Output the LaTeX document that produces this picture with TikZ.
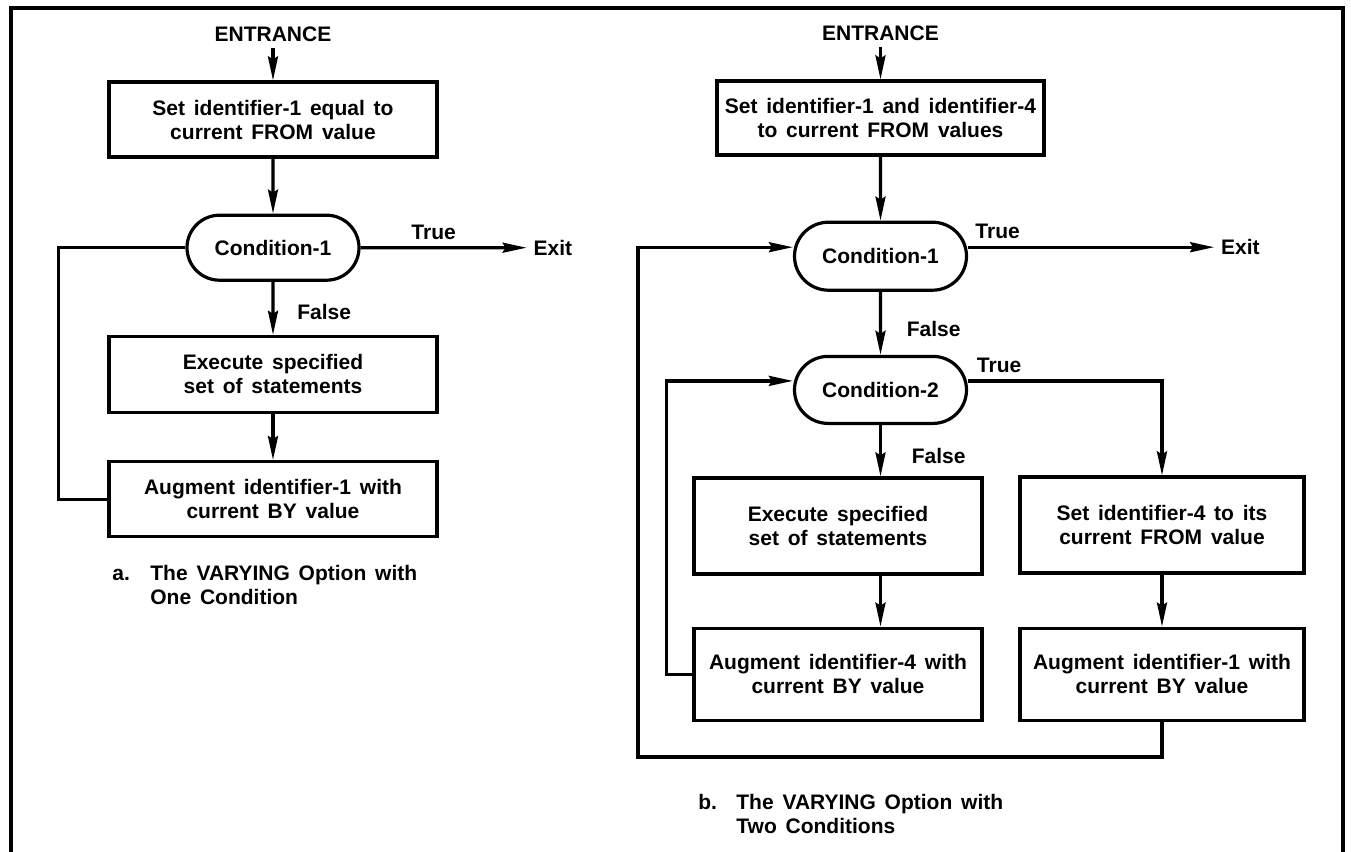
\documentclass[tikz,border=0pt]{standalone}
\usepackage{fontspec}
\setmainfont{Liberation Sans}
\usepackage{tikz}
\usetikzlibrary{shapes.misc, arrows.meta, positioning}
\newcommand{\flowfont}{\fontsize{10.5}{12}\selectfont\bfseries\spaceskip=0.42em plus 0.1em}
\tikzset{
    process/.style={rectangle, draw=black, line width=1.6pt, align=center, inner sep=2pt, font=\flowfont},
    condbox/.style={rounded rectangle, draw=black, line width=1.6pt, align=center, minimum width=90pt, inner sep=2pt, font=\flowfont},
    plain/.style={font=\flowfont},
    caption/.style={align=left, inner sep=0pt, anchor=north west, font=\flowfont},
    line/.style={line width=1.6pt},
    arrow/.style={line width=1.6pt, -{Stealth[length=12pt, width=5pt, inset=1.5pt]}},
    frame/.style={line width=2pt}
}

\begin{document}
\begin{tikzpicture}[x=0.5pt, y=-0.5pt]
    \useasboundingbox (0,0) rectangle (1351,852);
    \draw[frame] (11,852) |- (1343,8) -- (1343,852);

    % a. one condition
    \node (setA) [process, minimum width=164pt, minimum height=37.5pt] at (273,119.5) {Set identifier-1 equal to\\current FROM value};
    \node (entA) [plain, above=16pt of setA] {ENTRANCE};
    \node (condA) [condbox, minimum height=32.5pt, below=27.5pt of setA] {Condition-1};
    \node (execA) [process, minimum width=164pt, minimum height=38pt, below=26.5pt of condA] {Execute specified\\set of statements};
    \node (augA) [process, minimum width=164pt, minimum height=37.5pt, below=23pt of execA] {Augment identifier-1 with\\current BY value};
    \node (exitA) [plain, right=83pt of condA] {Exit};

    \draw [arrow] (entA) -- (setA);
    \draw [arrow] (setA) -- (condA);
    \draw [arrow] (condA) -- node[plain, pos=0.57, right=8pt] {False} (execA);
    \draw [arrow] (execA) -- (augA);
    \draw [arrow] (condA) -- node[plain, pos=0.44, above] {True} (exitA);
    \draw [line] (augA.west) -- ++(-24.5pt,0) |- (condA.west);

    \node (capA) [caption] at (112,565) {\makebox[19pt][l]{a.}The VARYING Option with\\\hspace*{19pt}One Condition};

    % b. two conditions
    \node (setB) [process, minimum width=163.5pt, minimum height=37pt] at (880.5,118) {Set identifier-1 and identifier-4\\to current FROM values};
    \node (entB) [plain, above=16pt of setB] {ENTRANCE};
    \node (condB1) [condbox, minimum height=34pt, below=32pt of setB] {Condition-1};
    \node (condB2) [condbox, minimum height=33.5pt, below=31.5pt of condB1] {Condition-2};
    \node (execB) [process, minimum width=144pt, minimum height=48pt] at (838,526) {Execute specified\\set of statements};
    \node (augB4) [process, minimum width=144pt, minimum height=46pt, below=25.5pt of execB] {Augment identifier-4 with\\current BY value};
    \node (setB4) [process, minimum width=142pt, minimum height=48pt] at (1162,525) {Set identifier-4 to its\\current FROM value};
    \node (augB1) [process, minimum width=142pt, minimum height=46pt, below=26pt of setB4] {Augment identifier-1 with\\current BY value};
    \node (exitB) [plain, right=123pt of condB1, yshift=4.5pt] {Exit};
    \coordinate (loopB) at (638,757);

    \draw [arrow] (entB) -- (setB);
    \draw [arrow] (setB) -- (condB1);
    \draw [arrow] (condB1) -- node[plain, pos=0.59, right=9pt] {False} (condB2);
    \draw [arrow] (condB2.south) -- node[plain, pos=0.6, right=11.5pt] {False} (condB2.south |- execB.north);
    \draw [arrow] (condB2.south |- execB.south) -- (condB2.south |- augB4.north);
    \draw [arrow] ([yshift=4.5pt]condB1.east) -- node[plain, pos=0.12, above] {True} (exitB);
    \draw [arrow] ([yshift=4.5pt]condB2.east) -| node[plain, pos=0.08, above] {True} (setB4.north);
    \draw [arrow] (setB4) -- (augB1);
    \draw [arrow] (augB4.west) -- ++(-13pt,0) |- ([yshift=4.5pt]condB2.west);
    \draw [arrow] (augB1.south) |- (loopB) |- ([yshift=4.5pt]condB1.west);

    \node (capB) [caption] at (698,794) {\makebox[19pt][l]{b.}The VARYING Option with\\\hspace*{19pt}Two Conditions};
\end{tikzpicture}
\end{document}
